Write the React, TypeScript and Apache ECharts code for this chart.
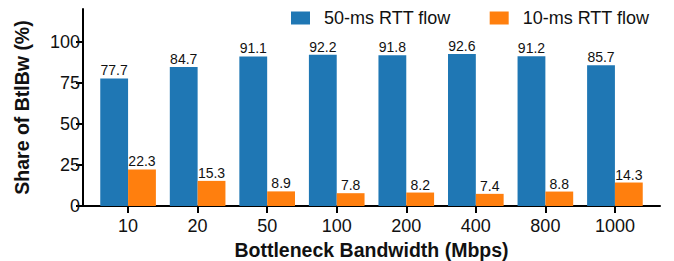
import React, { useEffect, useRef } from "react";
import * as echarts from "echarts";

const categories = ["10", "20", "50", "100", "200", "400", "800", "1000"];
const flow50 = [77.7, 84.7, 91.1, 92.2, 91.8, 92.6, 91.2, 85.7];
const flow10 = [22.3, 15.3, 8.9, 7.8, 8.2, 7.4, 8.8, 14.3];
const yTicks = [0, 25, 50, 75, 100];

const FONT = "Liberation Sans, Arial, Helvetica, sans-serif";

export default function App() {
  const ref = useRef<HTMLDivElement>(null);
  useEffect(() => {
    if (!ref.current) return;
    const chart = echarts.init(ref.current, null, { renderer: "svg" });
    chart.setOption({
      animation: false,
      textStyle: { fontFamily: FONT },
      legend: {
        left: 286,
        top: 4,
        itemWidth: 19,
        itemHeight: 13,
        itemGap: 39,
        icon: "rect",
        textStyle: { fontSize: 18, color: "#111", fontFamily: FONT, padding: [0, 0, 0, 9] },
        data: ["50-ms RTT flow", "10-ms RTT flow"],
      },
      grid: [
        { left: 83, top: 9, width: 577, height: 197, outerBoundsMode: "none", containLabel: false },
        { left: 93.3, top: 9, width: 556.4, height: 197, outerBoundsMode: "none", containLabel: false },
      ],
      xAxis: [
        {
          type: "value",
          gridIndex: 0,
          min: 0,
          max: 1,
          axisLine: { show: true, lineStyle: { color: "#000", width: 2 } },
          axisTick: { show: false },
          axisLabel: { show: false },
          splitLine: { show: false },
        },
        {
          type: "category",
          gridIndex: 1,
          data: categories,
          axisLine: { show: false },
          axisTick: { show: true, alignWithLabel: true, length: 7, lineStyle: { color: "#000", width: 2 } },
          axisLabel: { fontSize: 18, color: "#111", margin: 11, fontFamily: FONT },
          name: "Bottleneck Bandwidth (Mbps)",
          nameLocation: "middle",
          nameGap: 33,
          nameTextStyle: { fontSize: 19.5, fontWeight: "bold", color: "#111", fontFamily: FONT },
        },
      ],
      yAxis: [
        {
          type: "value",
          gridIndex: 0,
          min: 0,
          max: 120,
          interval: 25,
          axisLine: { show: true, lineStyle: { color: "#000", width: 2 } },
          axisTick: { show: true, length: 7, lineStyle: { color: "#000", width: 2 }, customValues: yTicks },
          axisLabel: { fontSize: 18, color: "#111", margin: 3, fontFamily: FONT, customValues: yTicks },
          splitLine: { show: false },
          name: "Share of BtlBw (%)",
          nameLocation: "middle",
          nameGap: 51,
          nameTextStyle: { fontSize: 19.5, fontWeight: "bold", color: "#111", fontFamily: FONT },
        },
        {
          type: "value",
          gridIndex: 1,
          min: 0,
          max: 120,
          show: false,
        },
      ],
      series: [
        {
          name: "50-ms RTT flow",
          type: "bar",
          xAxisIndex: 1,
          yAxisIndex: 1,
          data: flow50,
          barWidth: "40%",
          barGap: "0%",
          itemStyle: { color: "#1f77b4" },
          label: { show: true, position: "top", distance: 1, fontSize: 14, color: "#111", fontFamily: FONT },
        },
        {
          name: "10-ms RTT flow",
          type: "bar",
          xAxisIndex: 1,
          yAxisIndex: 1,
          data: flow10,
          barWidth: "40%",
          barGap: "0%",
          itemStyle: { color: "#ff7f0e" },
          label: { show: true, position: "top", distance: 1, fontSize: 14, color: "#111", fontFamily: FONT },
        },
      ],
    });
    return () => chart.dispose();
  }, []);
  return <div ref={ref} style={{ width: 674, height: 261, position: "absolute", left: 0, top: 0 }} />;
}
